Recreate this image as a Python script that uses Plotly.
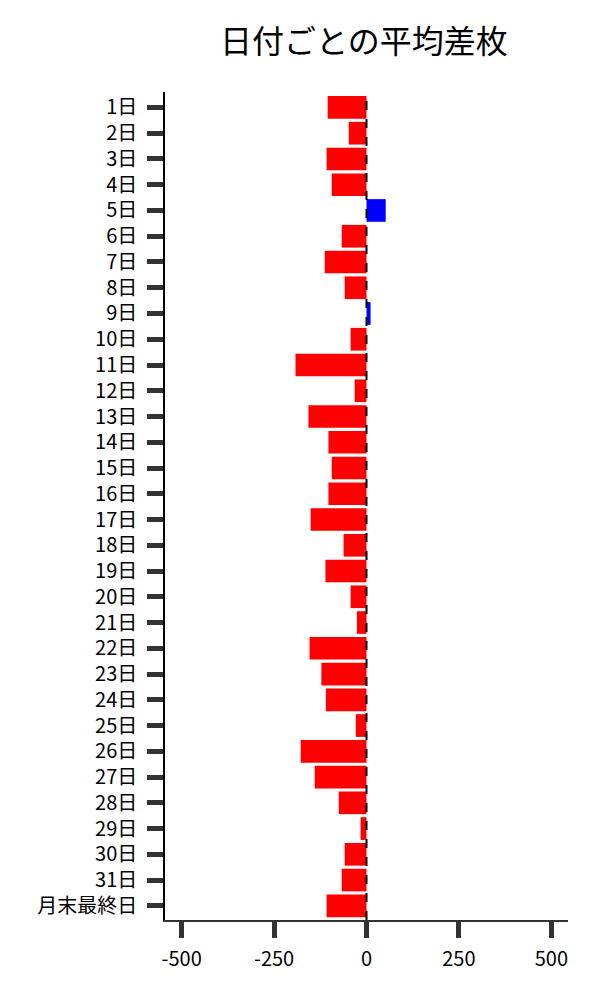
import plotly.graph_objects as go

# 日付カテゴリと平均差枚
DAYS = [f"{d}日" for d in range(1, 32)] + ["月末最終日"]
AVG_DIFF = [
    -105, -48, -108, -94, 52, -67, -113, -59, 11, -43,
    -192, -32, -157, -103, -94, -103, -151, -62, -111, -43,
    -26, -154, -122, -110, -29, -178, -140, -75, -16, -59,
    -67, -108,
]
X_TICKS = [-500, -250, 0, 250, 500]

FONT = "Noto Sans CJK JP"
colors = ["blue" if v > 0 else "red" for v in AVG_DIFF]

fig = go.Figure(
    go.Bar(
        x=AVG_DIFF,
        y=DAYS,
        orientation="h",
        marker=dict(color=colors, line=dict(width=0)),
        width=0.88,
    )
)

# ゼロ位置の破線
fig.add_shape(
    type="line", xref="x", yref="paper",
    x0=0, x1=0, y0=0, y1=1,
    line=dict(color="black", width=2, dash="dash"),
    layer="above",
)

fig.update_layout(
    width=600, height=1000,
    font=dict(family=FONT, size=20, color="black"),
    title=dict(text="日付ごとの平均差枚", x=0.593, xanchor="center",
               y=0.966, yanchor="middle", font=dict(size=32)),
    plot_bgcolor="white",
    paper_bgcolor="white",
    margin=dict(l=157, r=40, t=84, b=88),
    showlegend=False,
)
fig.update_yaxes(
    autorange=False, range=[31.55, -0.6],
    showline=True, linecolor="black", linewidth=1.5,
    ticks="outside", ticklen=16, tickwidth=5, tickcolor="#333",
    ticklabelstandoff=6,
    showgrid=False, zeroline=False,
    tickfont=dict(size=20),
)
fig.update_xaxes(
    range=[-545, 545],
    tickvals=X_TICKS, ticktext=[str(t) for t in X_TICKS],
    showline=True, linecolor="#333", linewidth=1.5,
    ticks="outside", ticklen=16, tickwidth=5, tickcolor="#333",
    ticklabelstandoff=4,
    showgrid=False, zeroline=False,
    tickfont=dict(size=20),
)

fig.write_html("out.html")
